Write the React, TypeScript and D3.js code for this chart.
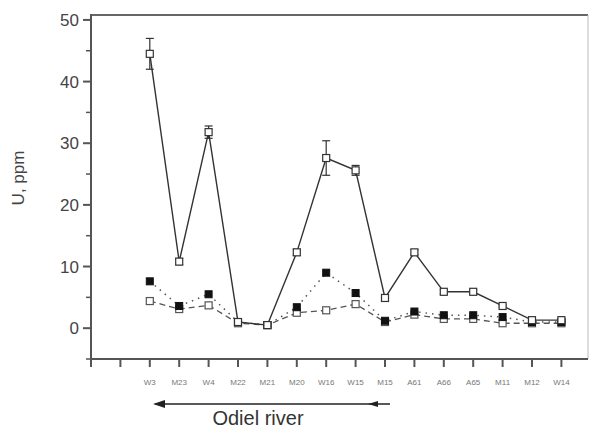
import React from 'react';
import * as d3 from 'd3';

const sites = ['W3', 'M23', 'W4', 'M22', 'M21', 'M20', 'W16', 'W15', 'M15', 'A61', 'A66', 'A65', 'M11', 'M12', 'W14'];

// solid line, open squares (with error bars)
const uSolid = [44.5, 10.8, 31.8, 1.0, 0.5, 12.3, 27.6, 25.6, 4.9, 12.3, 5.9, 5.9, 3.6, 1.3, 1.3];
const uSolidErr = [2.5, 0.5, 1.0, 0.3, 0.2, 0.5, 2.8, 0.8, 0.4, 0.4, 0.3, 0.3, 0.2, 0.2, 0.2];
// dotted line, filled squares
const uDotted = [7.6, 3.6, 5.5, 1.0, 0.5, 3.4, 9.0, 5.7, 1.2, 2.7, 2.1, 2.1, 1.8, 1.0, 1.0];
// dashed line, open squares
const uDashed = [4.4, 3.1, 3.7, 0.8, 0.5, 2.5, 2.9, 3.9, 1.0, 2.2, 1.5, 1.5, 0.8, 0.8, 0.8];

const yTicks = [0, 10, 20, 30, 40, 50];
const yMinor = [-5, 5, 15, 25, 35, 45];

const W = 589;
const H = 428;
const left = 91;
const right = 588;
const top = 15;
const bottom = 359;

const App: React.FC = () => {
  const x = d3.scaleLinear().domain([0, 17]).range([left, left + 17 * 29.4]);
  const y = d3.scaleLinear().domain([-5, 50.8]).range([bottom, top]);
  const xi = (i: number) => x(i + 2);

  const line = d3
    .line<number>()
    .x((_, i) => xi(i))
    .y((d) => y(d));

  const ink = '#333';
  const font = 'Liberation Sans, Arial, sans-serif';

  return (
    <svg width={W} height={H} style={{ position: 'absolute', left: 0, top: 0 }}>
      <rect width={W} height={H} fill="#fff" />
      {/* frame */}
      <line x1={left} x2={right} y1={top} y2={top} stroke="#666" strokeWidth={2} />
      <line x1={right} x2={right} y1={top} y2={bottom} stroke="#bbb" strokeWidth={1} />
      <line x1={left} x2={left} y1={top - 1} y2={bottom} stroke="#555" strokeWidth={2} />
      <line x1={left} x2={right} y1={bottom} y2={bottom} stroke="#555" strokeWidth={2} />

      {/* y ticks */}
      {yTicks.map((t) => (
        <g key={'y' + t}>
          <line x1={left - 8} x2={left} y1={y(t)} y2={y(t)} stroke="#555" strokeWidth={2} />
          <text x={left - 12} y={y(t) + 6} textAnchor="end" fontFamily={font} fontSize={17} fill="#444">
            {t}
          </text>
        </g>
      ))}
      {yMinor.map((t) => (
        <line key={'m' + t} x1={left - 5} x2={left} y1={y(t)} y2={y(t)} stroke="#555" strokeWidth={1.5} />
      ))}
      <text
        transform={`translate(24, ${178}) rotate(-90)`}
        textAnchor="middle"
        fontFamily={font}
        fontSize={17}
        fill="#444"
      >
        U, ppm
      </text>

      {/* x ticks */}
      {d3.range(0, 17).map((i) => (
        <line key={'x' + i} x1={x(i)} x2={x(i)} y1={bottom} y2={bottom + 8} stroke="#555" strokeWidth={2} />
      ))}
      {sites.map((s, i) => (
        <text key={s} x={xi(i)} y={385} textAnchor="middle" fontFamily={font} fontSize={8} fill="#777">
          {s}
        </text>
      ))}

      {/* Odiel river arrow */}
      <line x1={155} x2={390} y1={404} y2={404} stroke="#222" strokeWidth={1.5} />
      <path d="M153,404 L165,400 L165,408 Z" fill="#222" />
      <path d="M368,404 L378,401 L378,407 Z" fill="#222" />
      <text x={258} y={425} textAnchor="middle" fontFamily={font} fontSize={20} fill="#333">
        Odiel river
      </text>

      {/* dashed series */}
      <path d={line(uDashed) ?? ''} fill="none" stroke="#555" strokeWidth={1.3} strokeDasharray="6,4" />
      {/* dotted series */}
      <path d={line(uDotted) ?? ''} fill="none" stroke="#555" strokeWidth={1.5} strokeDasharray="1.5,5" />
      {/* solid series */}
      <path d={line(uSolid) ?? ''} fill="none" stroke={ink} strokeWidth={1.4} />

      {uSolid.map((v, i) => (
        <g key={'e' + i} stroke={ink} strokeWidth={1.2}>
          <line x1={xi(i)} x2={xi(i)} y1={y(v + uSolidErr[i])} y2={y(v - uSolidErr[i])} />
          <line x1={xi(i) - 4} x2={xi(i) + 4} y1={y(v + uSolidErr[i])} y2={y(v + uSolidErr[i])} />
          <line x1={xi(i) - 4} x2={xi(i) + 4} y1={y(v - uSolidErr[i])} y2={y(v - uSolidErr[i])} />
        </g>
      ))}

      {uDashed.map((v, i) => (
        <rect key={'c' + i} x={xi(i) - 3.5} y={y(v) - 3.5} width={7} height={7} fill="#fff" stroke="#555" strokeWidth={1.2} />
      ))}
      {uDotted.map((v, i) => (
        <rect key={'b' + i} x={xi(i) - 3.5} y={y(v) - 3.5} width={7} height={7} fill="#111" stroke="#111" strokeWidth={1} />
      ))}
      {uSolid.map((v, i) => (
        <rect key={'a' + i} x={xi(i) - 3.5} y={y(v) - 3.5} width={7} height={7} fill="#fff" stroke={ink} strokeWidth={1.2} />
      ))}
    </svg>
  );
};

export default App;
